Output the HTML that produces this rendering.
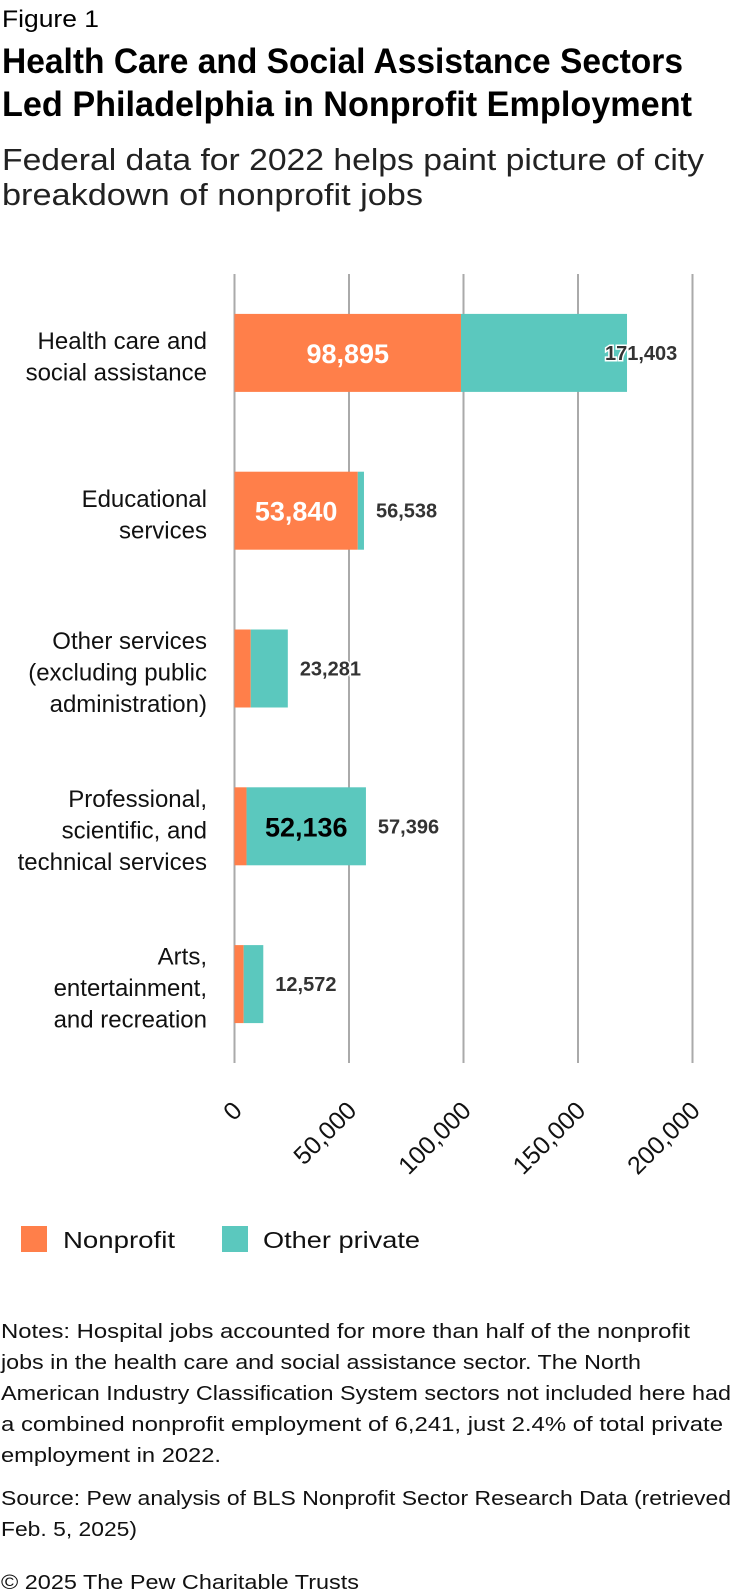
<!DOCTYPE html>
<html><head><meta charset="utf-8"><style>
html,body{margin:0;padding:0;background:#fff;}
svg{display:block;font-family:"Liberation Sans",sans-serif;}
</style></head><body>
<svg id="chart" width="732" height="1596" viewBox="0 0 732 1596" xmlns="http://www.w3.org/2000/svg">
<text x="2" y="27" font-size="24" fill="#000" textLength="97" lengthAdjust="spacingAndGlyphs">Figure 1</text>
<text x="2" y="73" font-size="35" font-weight="bold" fill="#000" textLength="681" lengthAdjust="spacingAndGlyphs">Health Care and Social Assistance Sectors</text>
<text x="2" y="116" font-size="35" font-weight="bold" fill="#000" textLength="690" lengthAdjust="spacingAndGlyphs">Led Philadelphia in Nonprofit Employment</text>
<text x="2" y="170" font-size="31" fill="#222" textLength="702" lengthAdjust="spacingAndGlyphs">Federal data for 2022 helps paint picture of city</text>
<text x="2" y="205" font-size="31" fill="#222" textLength="421" lengthAdjust="spacingAndGlyphs">breakdown of nonprofit jobs</text>
<g id="grid"></g><g id="bars"></g><g id="labels"></g><g id="ticks"></g>
<rect x="21" y="1226" width="26" height="26" fill="#FF7F4A"/>
<text x="63" y="1248" font-size="23" fill="#111" textLength="112" lengthAdjust="spacingAndGlyphs">Nonprofit</text>
<rect x="222" y="1226" width="26" height="26" fill="#5BC8BE"/>
<text x="263" y="1248" font-size="23" fill="#111" textLength="157" lengthAdjust="spacingAndGlyphs">Other private</text>
<g font-size="20" fill="#111">
<text x="1" y="1338" textLength="689" lengthAdjust="spacingAndGlyphs">Notes: Hospital jobs accounted for more than half of the nonprofit</text>
<text x="1" y="1369" textLength="640" lengthAdjust="spacingAndGlyphs">jobs in the health care and social assistance sector. The North</text>
<text x="1" y="1400" textLength="730" lengthAdjust="spacingAndGlyphs">American Industry Classification System sectors not included here had</text>
<text x="1" y="1431" textLength="722" lengthAdjust="spacingAndGlyphs">a combined nonprofit employment of 6,241, just 2.4% of total private</text>
<text x="1" y="1462" textLength="220" lengthAdjust="spacingAndGlyphs">employment in 2022.</text>
</g>
<g font-size="20" fill="#111">
<text x="1" y="1505" textLength="730" lengthAdjust="spacingAndGlyphs">Source: Pew analysis of BLS Nonprofit Sector Research Data (retrieved</text>
<text x="1" y="1536" textLength="136" lengthAdjust="spacingAndGlyphs">Feb. 5, 2025)</text>
</g>
<text x="1" y="1589" font-size="20" fill="#111" textLength="358" lengthAdjust="spacingAndGlyphs">© 2025 The Pew Charitable Trusts</text>
</svg>
<script>
const categories = [
  ["Health care and","social assistance"],
  ["Educational","services"],
  ["Other services","(excluding public","administration)"],
  ["Professional,","scientific, and","technical services"],
  ["Arts,","entertainment,","and recreation"]
];
const nonprofit = [98895, 53840, 7100, 5260, 4000];
const totals = [171403, 56538, 23281, 57396, 12572];
const ticks = [0, 50000, 100000, 150000, 200000];
const tickLabels = ["0","50,000","100,000","150,000","200,000"];

(function(){
const NS = "http://www.w3.org/2000/svg";
const x0 = 234.5, xPer = 114.5/50000;
const plotTop = 274, plotBottom = 1063, band = (plotBottom-plotTop)/categories.length, barH = 78;
const xs = v => x0 + v*xPer;
const yc = i => plotTop + band*(i+0.5);
const fmt = v => v.toLocaleString("en-US");
function mk(tag, attrs, parent){const e=document.createElementNS(NS,tag);for(const k in attrs)e.setAttribute(k,attrs[k]);parent.appendChild(e);return e;}
const grid=document.getElementById("grid"), bars=document.getElementById("bars"), labels=document.getElementById("labels"), tk=document.getElementById("ticks");
ticks.forEach((t,i)=>{
  const l=mk("line",{x1:xs(t),x2:xs(t),y1:plotTop,y2:plotBottom,stroke:"#aaa","stroke-width":2},grid);
  
  
  const gx=xs(t)+9, gy=1112;
  const tx=mk("text",{x:gx,y:gy,"font-size":25,fill:"#111","text-anchor":"end",transform:`rotate(-45 ${gx} ${gy})`},tk);
  tx.textContent=tickLabels[i];
  
  
});
categories.forEach((lines,i)=>{
  const c=yc(i), y=c-barH/2;
  const np=nonprofit[i], other=totals[i]-np;
  const r1=mk("rect",{x:xs(0),y:y,width:xs(np)-xs(0),height:barH,fill:"#FF7F4A"},bars);
  
  
  const r2=mk("rect",{x:xs(np),y:y,width:xs(totals[i])-xs(np),height:barH,fill:"#5BC8BE"},bars);
  
  
  const wNp=xs(np)-xs(0), wOt=xs(totals[i])-xs(np);
  if(wNp>100){
    const t=mk("text",{x:(xs(0)+xs(np))/2,y:c+10,"font-size":27,"font-weight":"bold",fill:"#fff","text-anchor":"middle"},labels);
    t.textContent=fmt(np);
    
    
  } else if(wOt>100){
    const t=mk("text",{x:(xs(np)+xs(totals[i]))/2,y:c+10,"font-size":27,"font-weight":"bold",fill:"#000","text-anchor":"middle"},labels);
    t.textContent=fmt(other);
    
    
  }
  const lx=Math.min(xs(totals[i])+12,605);
  const tl=mk("text",{x:lx,y:c+7,"font-size":20,"font-weight":"bold",fill:"#333",stroke:"#fff","stroke-width":3,"paint-order":"stroke"},labels);
  tl.textContent=fmt(totals[i]);
  
  
  const n=lines.length;
  lines.forEach((s,j)=>{
    const ly=c+(j-(n-1)/2)*31.5+3+9;
    const ct=mk("text",{x:207,y:ly,"font-size":24,fill:"#111","text-anchor":"end"},labels);
    ct.textContent=s;
    
    
  });
});
})();
</script>
</body></html>
